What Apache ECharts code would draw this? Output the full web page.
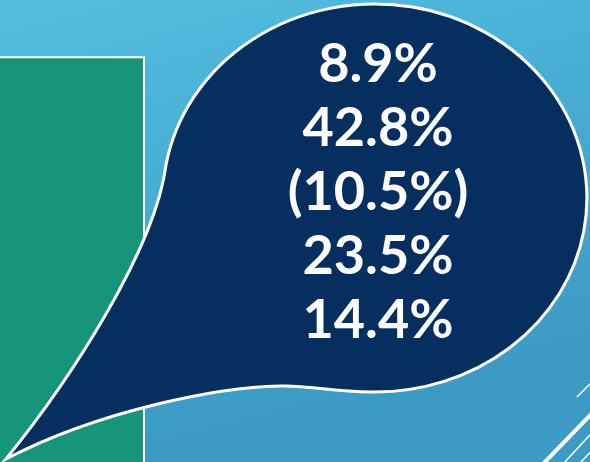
<!DOCTYPE html>
<html>
<head>
<meta charset="utf-8">
<script src="https://cdn.jsdelivr.net/npm/echarts@6/dist/echarts.min.js"></script>
<style>
  html, body { margin: 0; padding: 0; }
  #main { width: 590px; height: 462px; }
</style>
</head>
<body>
<div id="main"></div>
<script>
// 数据
var growthValues = [8.9, 42.8, -10.5, 23.5, 14.4];
var barCategories = ['A'];
var barValues = [88];

// 负数用括号表示
function fmt(v) {
  var s = Math.abs(v).toFixed(1) + '%';
  return v < 0 ? '(' + s + ')' : s;
}

var chart = echarts.init(document.getElementById('main'));

// 气泡轮廓
var bubblePath = 'M166,165 A212,194 0 1 1 372,392 ' +
  'C330,392 310,385 280,386 ' +
  'C220,387 100,410 6,459 ' +
  'C70,380 155,250 166,165 Z';

chart.setOption({
  animation: false,
  grid: { left: -30, top: 0, bottom: -6, width: 175, outerBoundsMode: 'none' },
  xAxis: { type: 'category', data: barCategories, show: false },
  yAxis: { type: 'value', min: 0, max: 100, show: false },
  series: [{
    type: 'bar',
    data: barValues,
    barWidth: '100%',
    itemStyle: { color: '#16957A', borderColor: '#ffffff', borderWidth: 2 },
    z: 2
  }, {
    // 气泡
    type: 'custom',
    coordinateSystem: 'none',
    data: [0],
    silent: true,
    z: 10,
    renderItem: function () {
      return {
        type: 'group',
        children: [{
          type: 'path',
          shape: { pathData: bubblePath },
          style: { fill: '#062F60', stroke: '#ffffff', lineWidth: 3 }
        }, {
          type: 'text',
          style: {
            text: growthValues.map(fmt).join('\n'),
            x: 378, y: 193,
            align: 'center', verticalAlign: 'middle',
            font: 'bold 54px Lato',
            lineHeight: 64,
            fill: '#ffffff'
          }
        }]
      };
    }
  }],
  graphic: [
    {
      type: 'rect', z: -10, silent: true,
      shape: { x: 0, y: 0, width: 590, height: 462 },
      style: {
        fill: new echarts.graphic.LinearGradient(0, 0, 0.2, 1, [
          { offset: 0, color: '#53BEE0' },
          { offset: 1, color: '#3C9AC5' }
        ])
      }
    },
    // 右下角装饰线
    { type: 'line', z: 5, silent: true, shape: { x1: 577, y1: 397, x2: 600, y2: 374 }, style: { stroke: '#ffffff', lineWidth: 1.5 } },
    { type: 'line', z: 5, silent: true, shape: { x1: 543, y1: 464, x2: 600, y2: 405 }, style: { stroke: '#ffffff', lineWidth: 4 } },
    { type: 'line', z: 5, silent: true, shape: { x1: 563, y1: 464, x2: 600, y2: 424 }, style: { stroke: '#ffffff', lineWidth: 1.5 } },
    { type: 'line', z: 5, silent: true, shape: { x1: 579, y1: 464, x2: 600, y2: 442 }, style: { stroke: '#ffffff', lineWidth: 1.5 } }
  ]
});
</script>
</body>
</html>
